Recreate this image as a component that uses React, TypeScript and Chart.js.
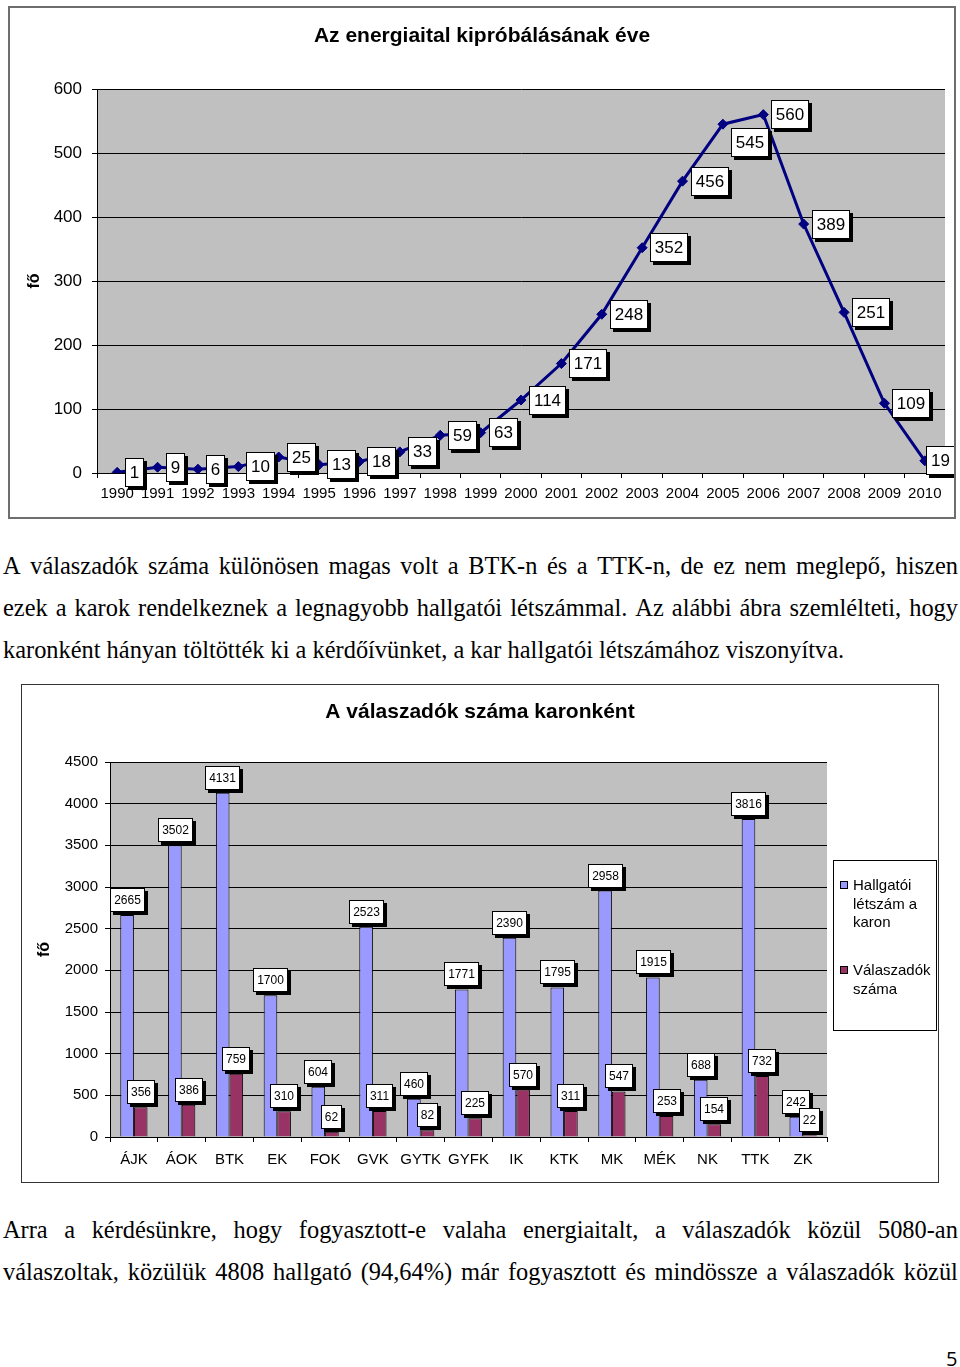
import React, { useEffect, useRef } from 'react';
import { Chart, registerables } from 'chart.js';

Chart.register(...registerables);
Chart.defaults.font.family = '"Liberation Sans", Arial, sans-serif';

// ---- Chart 1 data ----
const YEARS = ['1990', '1991', '1992', '1993', '1994', '1995', '1996', '1997', '1998', '1999', '2000', '2001', '2002', '2003', '2004', '2005', '2006', '2007', '2008', '2009', '2010'];
const TRIED = [1, 9, 6, 10, 25, 13, 18, 33, 59, 63, 114, 171, 248, 352, 456, 545, 560, 389, 251, 109, 19];
const Y1_MAX = 600;
const Y1_STEP = 100;

// ---- Chart 2 data ----
const FACULTIES = ['ÁJK', 'ÁOK', 'BTK', 'EK', 'FOK', 'GVK', 'GYTK', 'GYFK', 'IK', 'KTK', 'MK', 'MÉK', 'NK', 'TTK', 'ZK'];
const STUDENTS = [2665, 3502, 4131, 1700, 604, 2523, 460, 1771, 2390, 1795, 2958, 1915, 688, 3816, 242];
const RESPONDENTS = [356, 386, 759, 310, 62, 311, 82, 225, 570, 311, 547, 253, 154, 732, 22];
const SERIES_NAMES = ['Hallgatói létszám a karon', 'Válaszadók száma'];
const LEGEND_LINES = [['Hallgatói', 'létszám a', 'karon'], ['Válaszadók', 'száma']];
const Y2_MAX = 4500;
const Y2_STEP = 500;

const FONT = '"Liberation Sans", Arial, sans-serif';

function drawBox(ctx: CanvasRenderingContext2D, text: string, left: number, top: number, fontPx: number, padX: number, h: number, shadow: number, maxRight?: number) {
  ctx.save();
  ctx.font = `${fontPx}px ${FONT}`;
  const w = Math.round(ctx.measureText(text).width + padX * 2);
  if (maxRight !== undefined && left + w > maxRight) left = maxRight - w;
  left = Math.round(left);
  top = Math.round(top);
  ctx.fillStyle = '#000';
  ctx.fillRect(left + shadow, top + shadow, w, h);
  ctx.fillStyle = '#fff';
  ctx.fillRect(left, top, w, h);
  ctx.strokeStyle = '#000';
  ctx.lineWidth = 1;
  ctx.strokeRect(left + 0.5, top + 0.5, w - 1, h - 1);
  ctx.fillStyle = '#000';
  ctx.textAlign = 'center';
  ctx.textBaseline = 'middle';
  ctx.fillText(text, left + w / 2, top + h / 2 + 1);
  ctx.restore();
}

const plotBg = {
  id: 'plotBg',
  beforeDraw(chart: any) {
    const { ctx, chartArea: a } = chart;
    ctx.save();
    ctx.fillStyle = '#C0C0C0';
    ctx.fillRect(a.left, a.top, a.right - a.left, a.bottom - a.top);
    ctx.restore();
  },
};

const lineLabels = {
  id: 'lineLabels',
  afterDatasetsDraw(chart: any) {
    const ctx = chart.ctx;
    const meta = chart.getDatasetMeta(0);
    const data = chart.data.datasets[0].data;
    meta.data.forEach((el: any, i: number) => {
      const t = String(data[i]);
      const h = 29;
      let top = el.y - h / 2;
      // the 2005 label sits below-right of its point
      if (chart.data.labels[i] === '2005') top = el.y + 4;
      drawBox(ctx, t, el.x + 8, top, 17, 5, h, 3, chart.width + 1);
    });
  },
};

const barLabels = {
  id: 'barLabels',
  afterDatasetsDraw(chart: any) {
    const ctx = chart.ctx;
    chart.data.datasets.forEach((ds: any, di: number) => {
      const meta = chart.getDatasetMeta(di);
      meta.data.forEach((el: any, i: number) => {
        const t = String(ds.data[i]);
        ctx.save();
        ctx.font = `12px ${FONT}`;
        const w = ctx.measureText(t).width + 8;
        ctx.restore();
        const h = 24;
        drawBox(ctx, t, el.x - w / 2, el.y - 3 - h, 12, 4, h, 3);
      });
    });
  },
};

const boxLegend = {
  id: 'boxLegend',
  afterDraw(chart: any) {
    const { ctx, chartArea: a } = chart;
    const left = a.right + 6;
    const top = a.top + 98;
    const w = 104;
    const h = 171;
    ctx.save();
    ctx.fillStyle = '#fff';
    ctx.fillRect(left, top, w, h);
    ctx.strokeStyle = '#000';
    ctx.lineWidth = 1;
    ctx.strokeRect(left + 0.5, top + 0.5, w - 1, h - 1);
    ctx.font = `15px ${FONT}`;
    ctx.textBaseline = 'middle';
    ctx.textAlign = 'left';
    const starts = [25, 110];
    chart.data.datasets.forEach((ds: any, di: number) => {
      const y0 = top + starts[di];
      ctx.fillStyle = ds.backgroundColor;
      ctx.fillRect(left + 7, y0 - 4, 8, 8);
      ctx.strokeStyle = '#000';
      ctx.strokeRect(left + 7.5, y0 - 3.5, 7, 7);
      ctx.fillStyle = '#000';
      LEGEND_LINES[di].forEach((ln, k) => {
        ctx.fillText(ln, left + 20, y0 + k * 18.5 + 1);
      });
    });
    ctx.restore();
  },
};

// an empty axis on the right that only reserves room (keeps the title centred on the whole box)
function spacerAxis(width: number) {
  return {
    type: 'linear',
    position: 'right',
    display: true,
    grid: { display: false },
    border: { display: false },
    ticks: { display: false },
    afterFit: (s: any) => {
      s.width = width;
    },
  };
}

const plainNumber = (v: any) => String(v);

function LineChart() {
  const ref = useRef<HTMLCanvasElement>(null);
  useEffect(() => {
    const chart = new Chart(ref.current as HTMLCanvasElement, {
      type: 'line',
      data: {
        labels: YEARS,
        datasets: [
          {
            data: TRIED,
            borderColor: '#000080',
            backgroundColor: '#000080',
            borderWidth: 3,
            pointStyle: 'rectRot',
            pointRadius: 5,
            pointBackgroundColor: '#000080',
            pointBorderColor: '#000080',
            pointBorderWidth: 1,
            tension: 0,
            yAxisID: 'y',
          },
        ],
      },
      options: {
        responsive: false,
        animation: false,
        plugins: {
          legend: { display: false },
          tooltip: { enabled: false },
          title: {
            display: true,
            text: 'Az energiaital kipróbálásának éve',
            font: { size: 21, weight: 'bold' },
            color: '#000',
            padding: { top: 15.4, bottom: 40.4 },
          },
        },
        scales: {
          x: {
            offset: true,
            grid: { offset: true, drawOnChartArea: false, tickLength: 5, color: '#000' },
            border: { color: '#000' },
            ticks: { font: { size: 15 }, color: '#000', padding: 7, maxRotation: 0, autoSkip: false },
            afterFit: (s: any) => {
              s.height = 44;
            },
          },
          y: {
            min: 0,
            max: Y1_MAX,
            ticks: { stepSize: Y1_STEP, font: { size: 17 }, color: '#000', padding: 10, callback: plainNumber },
            grid: { color: '#000', tickLength: 5 },
            border: { color: '#000' },
            title: { display: true, text: 'fő', font: { size: 16, weight: 'bold' }, color: '#000', padding: { top: 15 } },
            afterFit: (s: any) => {
              s.width = 87;
            },
          },
          yR: spacerAxis(9),
        },
      } as any,
      plugins: [plotBg, lineLabels],
    });
    return () => chart.destroy();
  }, []);
  return <canvas ref={ref} width={944} height={509} style={{ display: 'block', width: 944, height: 509 }} />;
}

function BarChart() {
  const ref = useRef<HTMLCanvasElement>(null);
  useEffect(() => {
    const chart = new Chart(ref.current as HTMLCanvasElement, {
      type: 'bar',
      data: {
        labels: FACULTIES,
        datasets: [
          {
            label: SERIES_NAMES[0],
            data: STUDENTS,
            backgroundColor: '#9999FF',
            borderColor: '#000',
            borderWidth: 1,
            categoryPercentage: 0.57,
            barPercentage: 1,
            yAxisID: 'y',
          },
          {
            label: SERIES_NAMES[1],
            data: RESPONDENTS,
            backgroundColor: '#993366',
            borderColor: '#000',
            borderWidth: 1,
            categoryPercentage: 0.57,
            barPercentage: 1,
            yAxisID: 'y',
          },
        ],
      },
      options: {
        responsive: false,
        animation: false,
        plugins: {
          legend: { display: false },
          tooltip: { enabled: false },
          title: {
            display: true,
            text: 'A válaszadók száma karonként',
            font: { size: 21, weight: 'bold' },
            color: '#000',
            padding: { top: 14.4, bottom: 37.4 },
          },
        },
        scales: {
          x: {
            grid: { offset: true, drawOnChartArea: false, tickLength: 5, color: '#000' },
            border: { color: '#000' },
            ticks: { font: { size: 15 }, color: '#000', padding: 9, maxRotation: 0, autoSkip: false },
            afterFit: (s: any) => {
              s.height = 45;
            },
          },
          y: {
            min: 0,
            max: Y2_MAX,
            ticks: { stepSize: Y2_STEP, font: { size: 15 }, color: '#000', padding: 7, callback: plainNumber },
            grid: { color: '#000', tickLength: 5 },
            border: { color: '#000' },
            title: { display: true, text: 'fő', font: { size: 16, weight: 'bold' }, color: '#000', padding: { top: 13 } },
            afterFit: (s: any) => {
              s.width = 88;
            },
          },
          yR: spacerAxis(111),
        },
      } as any,
      plugins: [plotBg, barLabels, boxLegend],
    });
    return () => chart.destroy();
  }, []);
  return <canvas ref={ref} width={916} height={497} style={{ display: 'block', width: 916, height: 497 }} />;
}

const SERIF = '"Liberation Serif", "Times New Roman", serif';

function JLine({ text, top, justify = true }: { text: string; top: number; justify?: boolean }) {
  const words = text.split(' ');
  return (
    <div
      style={{
        position: 'absolute',
        left: 3,
        top,
        width: 955,
        height: 42,
        lineHeight: '42px',
        fontFamily: SERIF,
        fontSize: 24.4,
        color: '#000',
        whiteSpace: 'nowrap',
        display: justify ? 'flex' : 'block',
        justifyContent: 'space-between',
      }}
    >
      {justify ? words.map((w, i) => <span key={i}>{w}</span>) : text}
    </div>
  );
}

export default function App() {
  return (
    <div style={{ position: 'absolute', left: 0, top: 0, width: 960, height: 1367, overflow: 'hidden', background: '#fff' }}>
      <div style={{ position: 'absolute', left: 8, top: 6, width: 948, height: 513, boxSizing: 'border-box', border: '2px solid #6e6e6e' }}>
        <LineChart />
      </div>
      <JLine top={544.8} text="A válaszadók száma különösen magas volt a BTK-n és a TTK-n, de ez nem meglepő, hiszen" />
      <JLine top={586.8} text="ezek a karok rendelkeznek a legnagyobb hallgatói létszámmal. Az alábbi ábra szemlélteti, hogy" />
      <JLine top={628.8} justify={false} text="karonként hányan töltötték ki a kérdőívünket, a kar hallgatói létszámához viszonyítva." />
      <div style={{ position: 'absolute', left: 21, top: 684, width: 918, height: 499, boxSizing: 'border-box', border: '1px solid #333' }}>
        <BarChart />
      </div>
      <JLine top={1208.8} text="Arra a kérdésünkre, hogy fogyasztott-e valaha energiaitalt, a válaszadók közül 5080-an" />
      <JLine top={1250.8} text="válaszoltak, közülük 4808 hallgató (94,64%) már fogyasztott és mindössze a válaszadók közül" />
      <div style={{ position: 'absolute', left: 946, top: 1348, fontFamily: '"Open Sans", "Liberation Sans", sans-serif', fontSize: 20, lineHeight: '21px', color: '#000' }}>5</div>
    </div>
  );
}
